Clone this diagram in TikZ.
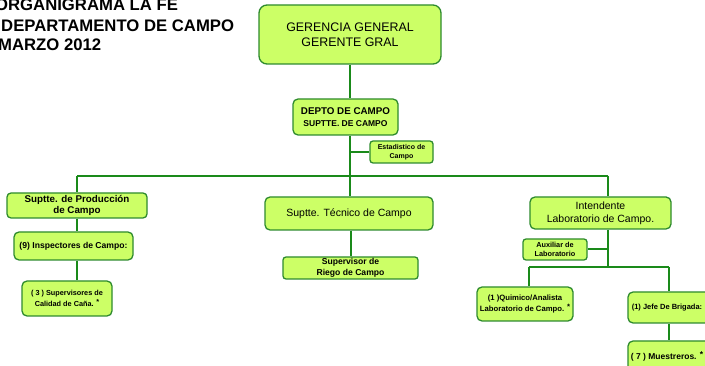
\documentclass[tikz,border=0pt]{standalone}
\usepackage{fontspec}
\setmainfont{Liberation Sans}
\definecolor{boxfill}{HTML}{CCFF66}
\definecolor{boxline}{HTML}{2E8B2E}
\definecolor{wire}{HTML}{1A8A1A}
\newcommand{\fs}[2]{\fontsize{#1}{#2}\selectfont}
\newcommand{\notemark}{\raisebox{2pt}{*}}
\tikzset{
  orgbox/.style={draw=boxline, fill=boxfill, line width=1.3pt, rounded corners=#1,
    inner sep=0pt, align=center, text=black},
  orgbox/.default=4pt,
  link/.style={draw=wire, line width=2pt},
  heading/.style={anchor=base west, inner sep=0pt, font=\fs{16.7}{19}\bfseries}
}
\begin{document}
\begin{tikzpicture}[x=1pt, y=-1pt]
\useasboundingbox (0,0) rectangle (705,366);
\clip (0,0) rectangle (705,366);

% title block
\node[heading] (t1) at (-5,11) {ORGANIGRAMA LA FE};
\node[heading] (t2) at (1,32) {DEPARTAMENTO DE CAMPO};
\node[heading] (t3) at (-2,51) {MARZO 2012};

% boxes
\node[orgbox=8pt, minimum width=182pt, minimum height=59pt, font=\fs{12.4}{14.5}] (ger) at (350,34.5)
  {GERENCIA GENERAL\\GERENTE GRAL};
\node[orgbox=5pt, minimum width=105pt, minimum height=36pt, font=\bfseries] (depto) at (345.5,117)
  {\fs{9.8}{11}DEPTO DE CAMPO\\[-0.5pt]\fs{8.5}{11}SUPTTE. DE CAMPO};
\node[orgbox=3pt, minimum width=63pt, minimum height=22pt, font=\fs{7}{9}\bfseries] (est) at (401.5,152)
  {Estadistico de\\Campo};

\node[orgbox, minimum width=140pt, minimum height=25pt, font=\fs{9.8}{11}\bfseries] (prod) at (77,205.5)
  {Suptte. de Producción\\de Campo};
\node[orgbox=5pt, minimum width=119pt, minimum height=28pt, font=\fs{8.6}{10}\bfseries] (insp) at (73.5,246)
  {(9) Inspectores de Campo:};
\node[orgbox=5pt, minimum width=90pt, minimum height=35pt, font=\fs{7.3}{11}\bfseries] (sup) at (67,298.5)
  {( 3 ) Supervisores de\\Calidad de Caña. \notemark};

\node[orgbox=5pt, minimum width=168pt, minimum height=33pt, font=\fs{10.5}{13}] (tec) at (349,213.5)
  {Suptte. Técnico de Campo};
\node[orgbox=3pt, minimum width=135pt, minimum height=22pt, font=\fs{8.6}{11}\bfseries] (riego) at (350.5,268)
  {Supervisor de\\Riego de Campo};

\node[orgbox=5pt, minimum width=141pt, minimum height=32pt, font=\fs{10.5}{13}] (int) at (600.5,213)
  {Intendente\\Laboratorio de Campo.};
\node[orgbox=3pt, minimum width=64pt, minimum height=21pt, font=\fs{7.3}{9}\bfseries] (aux) at (555,249.5)
  {Auxiliar de\\Laboratorio};
\node[orgbox=5pt, minimum width=96pt, minimum height=34pt, font=\fs{7.7}{10.5}\bfseries] (quim) at (525,304)
  {(1 )Quimico/Analista\\Laboratorio de Campo. \notemark};
\node[orgbox=5pt, minimum width=82pt, minimum height=31pt, font=\fs{7.5}{9}\bfseries] (jefe) at (669,307.5)
  {\hspace*{-4pt}(1) Jefe De Brigada:};
\node[orgbox=5pt, minimum width=82pt, minimum height=31pt, font=\fs{8.5}{10}\bfseries] (mues) at (669,356.5)
  {\hspace*{-4pt}( 7 ) Muestreros. \raisebox{2.5pt}{*}};

% junction points of the wiring
\coordinate (busL) at (77,176);
\coordinate (busR) at (608,176);
\coordinate (labL) at (529,267);
\coordinate (labR) at (669,267);

% connectors
\draw[link] (ger.south) -- (depto.north -| ger.south);
\draw[link] (depto.south -| ger.south) -- (tec.north -| ger.south);
\draw[link] (est.west -| ger.south) -- (est.west);
\draw[link] (busL) -- (busR);
\draw[link] (busL) -- (busL |- prod.north);
\draw[link] (prod.south -| busL) -- (insp.north -| busL);
\draw[link] (insp.south -| busL) -- (sup.north -| busL);
\draw[link] (tec.south -| riego.north) -- (riego.north);
\draw[link] (busR) -- (busR |- int.north);
\draw[link] (int.south -| busR) -- (labL -| busR);
\draw[link] (aux.east) -- (aux.east -| busR);
\draw[link] (labL) -- (labR);
\draw[link] (labL) -- (labL |- quim.north);
\draw[link] (labR) -- (labR |- jefe.north);
\draw[link] (jefe.south -| labR) -- (mues.north -| labR);
\end{tikzpicture}
\end{document}
